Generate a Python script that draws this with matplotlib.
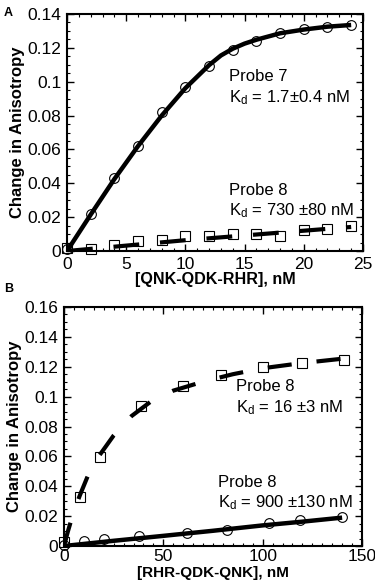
import numpy as np
import matplotlib
matplotlib.use("Agg")
import matplotlib.pyplot as plt
from matplotlib.ticker import MultipleLocator, FormatStrFormatter

plt.rcParams['font.family'] = ['Liberation Sans', 'DejaVu Sans']
plt.rcParams['mathtext.fontset'] = 'custom'
plt.rcParams['mathtext.rm'] = 'Liberation Sans'
plt.rcParams['mathtext.it'] = 'Liberation Sans:italic'

# panel A data
xa = [0, 2, 4, 6, 8, 10, 12, 14, 16, 18, 20, 22, 24]
probe7_a = [0.001, 0.022, 0.043, 0.062, 0.082, 0.097, 0.109, 0.119, 0.124, 0.129, 0.131, 0.1325, 0.1337]
probe8_a = [0.002, 0.0014, 0.0037, 0.0057, 0.0063, 0.009, 0.0089, 0.0099, 0.010, 0.009, 0.0122, 0.013, 0.0148]
fit7_x = [0, 2, 4, 6, 8, 10, 12, 13, 14, 15, 16, 18, 20, 22, 24]
fit7_y = [0, 0.0215, 0.0425, 0.062, 0.080, 0.0962, 0.1098, 0.1155, 0.1195, 0.1225, 0.1248, 0.1286, 0.1308, 0.1325, 0.1335]
fit8a_x = [0, 5, 10, 15, 20, 24]
fit8a_y = [0, 0.0032, 0.0064, 0.0092, 0.0120, 0.0142]

# panel B data
xb_sq = [0, 8, 18, 39, 60, 79, 100, 120, 141]
probe8_b_sq = [0.0025, 0.033, 0.0596, 0.0935, 0.107, 0.1148, 0.1198, 0.1228, 0.1245]
xb_ci = [0, 10, 20, 38, 62, 82, 103, 119, 140]
probe8_b_ci = [0.001, 0.0033, 0.0045, 0.0065, 0.0089, 0.0105, 0.0156, 0.0172, 0.0194]
fitsq_x = [0, 2, 4, 6, 8, 12, 18, 25, 34, 44, 55, 70, 85, 100, 120, 141]
fitsq_y = [0, 0.010, 0.019, 0.027, 0.034, 0.047, 0.061, 0.074, 0.087, 0.097, 0.104, 0.110, 0.115, 0.119, 0.1225, 0.1255]
fitci_x = [0, 25, 50, 75, 100, 120, 140]
fitci_y = [0, 0.0035, 0.0068, 0.0102, 0.0138, 0.0163, 0.0190]

fig = plt.figure(figsize=(3.75, 5.8), dpi=100)
axA = fig.add_axes([0.1787, 0.5672, 0.7893, 0.4087])
axB = fig.add_axes([0.1707, 0.0586, 0.7946, 0.4121])

def style(ax, xpad=4):
    for s in ax.spines.values():
        s.set_linewidth(1.5)
    ax.tick_params(which='both', direction='in', top=True, right=True, labelsize=12.5)
    ax.tick_params(which='major', length=5, width=1, pad=4)
    ax.tick_params(axis='x', which='major', pad=xpad)
    ax.tick_params(which='minor', length=2.5, width=0.8)
    ax.yaxis.set_major_formatter(FormatStrFormatter('%g'))
    ax.set_ylabel('Change in Anisotropy', fontsize=12, fontweight='bold', labelpad=2)

# A
axA.plot(fit7_x, fit7_y, color='black', lw=3.2, solid_capstyle='butt', zorder=2)
axA.plot(fit8a_x, fit8a_y, color='black', lw=3.0, dashes=(6.2, 5.0), zorder=2)
axA.plot(xa, probe7_a, 'o', ms=7, mfc='none', mec='black', mew=0.8, clip_on=False, zorder=3)
axA.plot(xa, probe8_a, 's', ms=6.5, mfc='none', mec='black', mew=0.8, clip_on=False, zorder=3)
axA.set_xlim(0, 25)
axA.set_ylim(0, 0.14)
axA.xaxis.set_major_locator(MultipleLocator(5))
axA.xaxis.set_minor_locator(MultipleLocator(1))
axA.yaxis.set_major_locator(MultipleLocator(0.02))
axA.yaxis.set_minor_locator(MultipleLocator(0.005))
style(axA)
axA.set_xlabel('[QNK-QDK-RHR], nM', fontsize=11.6, fontweight='bold', labelpad=0)
axA.text(13.7, 0.1028, 'Probe 7', fontsize=12, va='center')
axA.text(13.7, 0.0905, 'K$_\\mathrm{d}$ = 1.7±0.4 nM', fontsize=12, va='center')
axA.text(13.7, 0.036, 'Probe 8', fontsize=12, va='center')
axA.text(13.7, 0.0240, 'K$_\\mathrm{d}$ = 730 ±80 nM', fontsize=12, va='center')

# B
axB.plot(fitsq_x, fitsq_y, color='black', lw=3.0, dashes=(5.8, 6.0), zorder=2)
axB.plot(fitci_x, fitci_y, color='black', lw=3.2, solid_capstyle='butt', zorder=2)
axB.plot(xb_sq, probe8_b_sq, 's', ms=6.5, mfc='none', mec='black', mew=0.8, clip_on=False, zorder=3)
axB.plot(xb_ci, probe8_b_ci, 'o', ms=7, mfc='none', mec='black', mew=0.8, clip_on=False, zorder=3)
axB.set_xlim(0, 150)
axB.set_ylim(0, 0.16)
axB.xaxis.set_major_locator(MultipleLocator(50))
axB.xaxis.set_minor_locator(MultipleLocator(5))
axB.yaxis.set_major_locator(MultipleLocator(0.02))
axB.yaxis.set_minor_locator(MultipleLocator(0.005))
style(axB, xpad=2.5)
axB.set_xlabel('[RHR-QDK-QNK], nM', fontsize=11, fontweight='bold')
axB.xaxis.label.set_va('bottom')
axB.xaxis.set_label_coords(0.5, -0.141)
axB.text(86.6, 0.1066, 'Probe 8', fontsize=12, va='center')
axB.text(86.6, 0.0925, 'K$_\\mathrm{d}$ = 16 ±3 nM', fontsize=12, va='center')
axB.text(77.5, 0.0424, 'Probe 8', fontsize=12, va='center')
axB.text(77.5, 0.0290, 'K$_\\mathrm{d}$ = 900 ±130 nM', fontsize=12, va='center')

fig.text(0.011, 0.988, 'A', fontsize=9, fontweight='bold', va='top')
fig.text(0.011, 0.512, 'B', fontsize=9, fontweight='bold', va='top')

fig.savefig('out.png', dpi=100)
